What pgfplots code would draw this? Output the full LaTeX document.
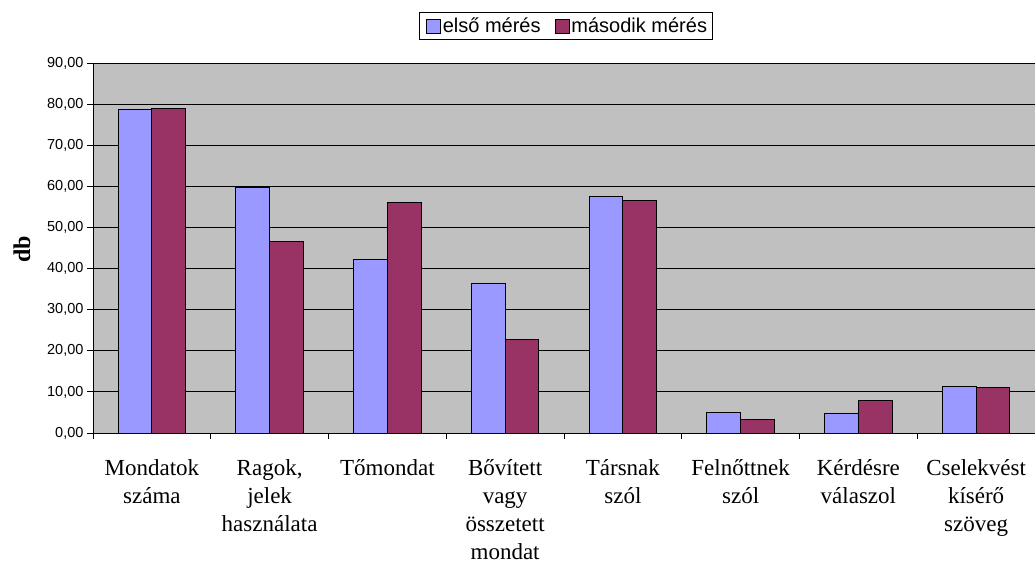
\documentclass[border=0pt]{standalone}
\usepackage{fontspec}
\setmainfont{Liberation Serif}
\setsansfont{Liberation Sans}
\usepackage{pgfplots}
\pgfplotsset{compat=1.18}
\definecolor{c1}{HTML}{9999FF}
\definecolor{c2}{HTML}{993366}
\definecolor{bg}{HTML}{C0C0C0}
\pgfplotsset{sqlegend/.style={legend image code/.code={\path (0pt,0pt); \draw[##1,line width=0.8pt] (4pt,-7pt) rectangle (18pt,7pt);}}}
\begin{document}
\begin{tikzpicture}
\useasboundingbox (0,0) rectangle (1035pt,564pt);
\begin{axis}[
  at={(93pt,131pt)}, anchor=south west,
  width=942pt, height=370pt, scale only axis,
  xmin=-0.5, xmax=7.5, ymin=0, ymax=90,
  axis background/.style={fill=bg},
  axis x line*=bottom, axis y line*=left,
  axis line style={black, line width=0.8pt, -},
  ybar=0pt, bar width=33.7pt,
  xtick={-0.5,0.5,...,7.5}, x tick label as interval,
  xticklabels={{Mondatok\\száma},{Ragok,\\jelek\\használata},{Tőmondat},{Bővített\\vagy\\összetett\\mondat},{Társnak\\szól},{Felnőttnek\\szól},{Kérdésre\\válaszol},{Cselekvést\\kísérő\\szöveg}},
  ytick={0,10,...,90},
  ymajorgrids, major grid style={black, line width=0.8pt},
  tick align=outside, major tick length=6pt,
  tick style={black, line width=0.8pt},
  yticklabel style={font=\sffamily\fontsize{14.5}{17}\selectfont, /pgf/number format/.cd, fixed, fixed zerofill, precision=2, use comma, assume math mode=true},
  xticklabel style={font=\fontsize{23}{28}\selectfont, align=center, anchor=north, yshift=-17pt},
  ylabel={db},
  ylabel style={font=\bfseries\fontsize{24}{28}\selectfont, at={(axis description cs:-0.0754,0.497)}, anchor=center},
  legend style={at={(axis description cs:0.5016,1.1000)}, anchor=center, draw=black, line width=0.8pt, font=\sffamily\fontsize{20}{23}\selectfont, inner sep=3pt, /tikz/every even column/.append style={column sep=8pt}},
  legend columns=2,
]
\addplot[fill=c1, draw=black, line width=0.9pt, sqlegend] coordinates {(0,78.6) (1,59.8) (2,42.3) (3,36.3) (4,57.5) (5,5.0) (6,4.7) (7,11.3)};
\addplot[fill=c2, draw=black, line width=0.9pt, sqlegend] coordinates {(0,78.9) (1,46.5) (2,56.0) (3,22.8) (4,56.5) (5,3.4) (6,7.8) (7,11.1)};
\legend{első mérés, második mérés}
\end{axis}
\end{tikzpicture}
\end{document}
